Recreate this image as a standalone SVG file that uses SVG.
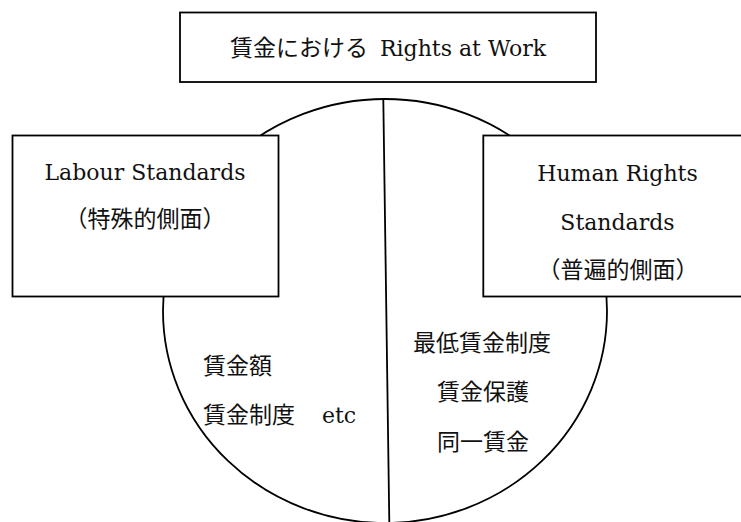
<svg xmlns="http://www.w3.org/2000/svg" width="741" height="522" viewBox="0 0 741 522">
<style>
.box{fill:#fff;stroke:#000;stroke-width:1.8}
.ln{fill:none;stroke:#000;stroke-width:1.8}
.lat{font-family:"DejaVu Serif","Noto Sans CJK JP",serif;font-size:22px;fill:#111}
.cjk{font-family:"Noto Sans CJK JP","DejaVu Serif",sans-serif;font-size:23px;fill:#111}
</style>
<rect width="741" height="522" fill="#fff"/>
<g id="connectors">
<ellipse class="ln" cx="385" cy="311" rx="222" ry="212"/>
<line class="ln" x1="383.3" y1="99" x2="389.3" y2="522"/>
</g>
<g id="title">
<rect class="box" x="180" y="12.5" width="416" height="69.5"/>
<text class="cjk" x="230" y="56">賃金における <tspan class="lat" x="380">Rights at Work</tspan></text>
</g>
<g id="labour">
<rect class="box" x="12.5" y="135.5" width="266" height="161"/>
<text class="lat" x="145" y="180" text-anchor="middle">Labour Standards</text>
<text class="cjk" x="145" y="227" text-anchor="middle">（特殊的側面）</text>
</g>
<g id="human">
<rect class="box" x="483.3" y="135.5" width="270" height="161"/>
<text class="lat" x="617.5" y="181" text-anchor="middle">Human Rights</text>
<text class="lat" x="617.5" y="229.5" text-anchor="middle">Standards</text>
<text class="cjk" x="618" y="278" text-anchor="middle">（普遍的側面）</text>
</g>
<g id="left-items">
<text class="cjk" x="203" y="374">賃金額</text>
<text class="cjk" x="203" y="423">賃金制度　<tspan class="lat" x="322">etc</tspan></text>
</g>
<g id="right-items">
<text class="cjk" x="413" y="351">最低賃金制度</text>
<text class="cjk" x="437" y="400">賃金保護</text>
<text class="cjk" x="437" y="450">同一賃金</text>
</g>
</svg>
